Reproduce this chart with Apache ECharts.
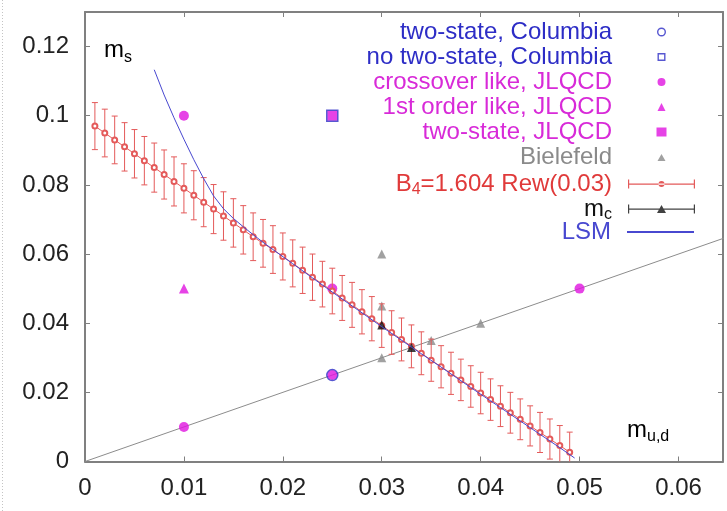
<!DOCTYPE html>
<html>
<head>
<meta charset="utf-8">
<script src="https://cdn.jsdelivr.net/npm/echarts@6/dist/echarts.min.js"></script>
<style>
  html, body { margin: 0; padding: 0; background: #fff; }
  #chart { width: 727px; height: 511px; }
</style>
</head>
<body>
<div id="chart"></div>
<script>
// ---- data: (m_ud, m_s) ----
const columbiaTwoState   = [[0.025, 0.025]];
const columbiaNoTwoState = [[0.025, 0.1]];
const jlqcdCrossover     = [[0.01, 0.1], [0.01, 0.01], [0.025, 0.05], [0.025, 0.025], [0.05, 0.05]];
const jlqcdFirstOrder    = [[0.01, 0.05]];
const jlqcdTwoState      = [[0.025, 0.1]];
const bielefeld          = [[0.03, 0.06], [0.03, 0.045], [0.03, 0.03], [0.035, 0.035], [0.04, 0.04]];
const criticalMass       = [[0.03, 0.0395], [0.033, 0.033]];
const symmetricLine      = [[0, 0], [0.07, 0.07]];

// B4 = 1.604 line from reweighting at 0.03
const rewMud = [0.001, 0.002, 0.003, 0.004, 0.005, 0.006, 0.007, 0.008, 0.009, 0.010,
                0.011, 0.012, 0.013, 0.014, 0.015, 0.016, 0.017, 0.018, 0.019, 0.020,
                0.021, 0.022, 0.023, 0.024, 0.025, 0.026, 0.027, 0.028, 0.029, 0.030,
                0.031, 0.032, 0.033, 0.034, 0.035, 0.036, 0.037, 0.038, 0.039, 0.040,
                0.041, 0.042, 0.043, 0.044, 0.045, 0.046, 0.047, 0.048, 0.049];
const rewMs  = [0.0970, 0.0950, 0.0930, 0.0910, 0.0890, 0.0870, 0.0850, 0.0830, 0.0810, 0.0790,
                0.0770, 0.0750, 0.0730, 0.0710, 0.0690, 0.0670, 0.0650, 0.0631, 0.0613, 0.0593,
                0.0573, 0.0553, 0.0533, 0.0513, 0.0493, 0.0473, 0.0453, 0.0433, 0.0413, 0.0393,
                0.0373, 0.0353, 0.0333, 0.0313, 0.0293, 0.0274, 0.0255, 0.0236, 0.0217, 0.0198,
                0.0179, 0.0160, 0.0141, 0.0122, 0.0103, 0.0084, 0.0065, 0.0046, 0.0027];
const rewErr = [0.0068, 0.0069, 0.0069, 0.0070, 0.0070, 0.0070, 0.0071, 0.0071, 0.0071, 0.0071,
                0.0071, 0.0071, 0.0071, 0.0070, 0.0070, 0.0070, 0.0069, 0.0069, 0.0069, 0.0068,
                0.0068, 0.0067, 0.0067, 0.0066, 0.0066, 0.0065, 0.0065, 0.0064, 0.0064, 0.0063,
                0.0063, 0.0062, 0.0062, 0.0062, 0.0061, 0.0061, 0.0061, 0.0060, 0.0060, 0.0060,
                0.0060, 0.0059, 0.0059, 0.0059, 0.0058, 0.0058, 0.0058, 0.0058, 0.0058];

// linear sigma model curve
const lsmMud = [0.007, 0.008, 0.009, 0.010, 0.011, 0.012, 0.013, 0.014, 0.015, 0.016,
                0.017, 0.018, 0.019, 0.021, 0.023, 0.025, 0.027, 0.030, 0.033, 0.036,
                0.039, 0.042, 0.045, 0.048, 0.0495];
const lsmMs  = [0.1133, 0.1060, 0.0994, 0.0932, 0.0873, 0.0818, 0.0768, 0.0731, 0.0703, 0.0679,
                0.0656, 0.0634, 0.0613, 0.0572, 0.0531, 0.0490, 0.0450, 0.0390, 0.0331, 0.0273,
                0.0214, 0.0156, 0.0098, 0.0040, 0.0010];

// axes
const xTickLabels = ['0', '0.01', '0.02', '0.03', '0.04', '0.05', '0.06'];
const yTickLabels = ['0', '0.02', '0.04', '0.06', '0.08', '0.1', '0.12'];
const xStep = 0.01, yStep = 0.02;

// ---- style ----
const FONT = '"Liberation Sans", Arial, Helvetica, sans-serif';
const BLUE = '#2d2dc6';
const MAGENTA = '#e014e0';
const MAGENTA_TEXT = '#d82ad8';
const GRAY = '#8a8a8a';
const RED = '#e03a3a';
const BAR = '#e45a5a';
const LSM_BLUE = '#4848d0';
const FRAME = '#808080';
const TICK_TEXT = '#222';

const NAME_B4 = 'B4=1.604 Rew(0.03)';
const NAME_MC = 'mc';

const rewBars = rewMud.map((x, i) => [x, rewMs[i] - rewErr[i], rewMs[i] + rewErr[i]]);
const rewLine = rewMud.map((x, i) => [x, rewMs[i]]);
const lsmLine = lsmMud.map((x, i) => [x, lsmMs[i]]);

function errorBars(params, api) {
  const x = api.value(0);
  const top = api.coord([x, api.value(2)]);
  const bot = api.coord([x, api.value(1)]);
  const cap = 3;
  const style = { stroke: BAR, lineWidth: 1 };
  return {
    type: 'group',
    children: [
      { type: 'line', shape: { x1: top[0], y1: top[1], x2: bot[0], y2: bot[1] }, style },
      { type: 'line', shape: { x1: top[0] - cap, y1: top[1], x2: top[0] + cap, y2: top[1] }, style },
      { type: 'line', shape: { x1: bot[0] - cap, y1: bot[1], x2: bot[0] + cap, y2: bot[1] }, style }
    ]
  };
}

const axisLineStyle = { onZero: false, lineStyle: { color: FRAME, width: 2 } };
const axisTickStyle = { inside: true, length: 5, lineStyle: { color: FRAME, width: 1 } };
const tickFont = { fontSize: 24, fontFamily: FONT, color: TICK_TEXT };

const subStyle = (color, size, shift) => ({ color, fontSize: size, fontFamily: FONT, lineHeight: 12, padding: [shift, 0, 0, 0] });
const mainStyle = (color, size) => ({ color, fontSize: size, fontFamily: FONT, lineHeight: 24 });

// legend icons, each laid out in a 67x9 box (two invisible corner specks fix the box)
const BOX = 'path://M0,0h0.01v0.01h-0.01z M66.99,8.99h0.01v0.01h-0.01z ';
const ICON_OPEN_CIRCLE = BOX + 'M29,4.5a4.5,4.5 0 1,0 9,0a4.5,4.5 0 1,0 -9,0z M30.4,4.5a3.1,3.1 0 1,1 6.2,0a3.1,3.1 0 1,1 -6.2,0z';
const ICON_CIRCLE      = BOX + 'M29.5,4.5a4,4 0 1,0 8,0a4,4 0 1,0 -8,0z';
const ICON_OPEN_SQUARE = BOX + 'M29.5,0.5h8v8h-8z M30.9,1.9v5.2h5.2v-5.2z';
const ICON_TRIANGLE    = BOX + 'M29.5,8.5L33.5,0.5L37.5,8.5z';
const ICON_SQUARE      = BOX + 'M28.5,0h10v9h-10z';
const ICON_TRIANGLE_SM = BOX + 'M29.5,8.5L33.5,1.5L37.5,8.5z';
const ICON_B4 = 'path://M0,0h1.2v9h-1.2z M65.8,0h1.2v9h-1.2z M0,4h67v1.2h-67z M30.5,4.6a3,3 0 1,0 6,0a3,3 0 1,0 -6,0z';
const ICON_MC = 'path://M0,0h1.2v9h-1.2z M65.8,0h1.2v9h-1.2z M0,4h67v1.2h-67z M29,8.6L33.5,0.4L38,8.6z';

const legendItems = [
  { name: 'two-state, Columbia', textStyle: { color: BLUE }, icon: ICON_OPEN_CIRCLE,
    itemStyle: { color: BLUE, borderWidth: 0 } },
  { name: 'no two-state, Columbia', textStyle: { color: BLUE }, icon: ICON_OPEN_SQUARE,
    itemStyle: { color: BLUE, borderWidth: 0 } },
  { name: 'crossover like, JLQCD', textStyle: { color: MAGENTA_TEXT }, icon: ICON_CIRCLE,
    itemStyle: { color: MAGENTA, borderWidth: 0 } },
  { name: '1st order like, JLQCD', textStyle: { color: MAGENTA_TEXT }, icon: ICON_TRIANGLE,
    itemStyle: { color: MAGENTA, borderWidth: 0 } },
  { name: 'two-state, JLQCD', textStyle: { color: MAGENTA_TEXT }, icon: ICON_SQUARE,
    itemStyle: { color: MAGENTA, borderWidth: 0 } },
  { name: 'Bielefeld', textStyle: { color: GRAY }, icon: ICON_TRIANGLE_SM,
    itemStyle: { color: GRAY, borderWidth: 0 } },
  { name: NAME_B4, icon: ICON_B4, itemStyle: { color: BAR, borderWidth: 0 } },
  { name: NAME_MC, icon: ICON_MC, itemStyle: { color: '#111', borderWidth: 0 } },
  { name: 'LSM', textStyle: { color: LSM_BLUE },
    itemStyle: { color: 'rgba(0,0,0,0)', borderColor: 'rgba(0,0,0,0)', borderWidth: 0 } }
];

// one key row per legend component, stacked 25px apart
const legends = legendItems.map((item, i) => ({
  orient: 'vertical', align: 'right', right: 32, top: 20 + 25 * i, padding: 0,
  itemGap: 0, itemWidth: 67, itemHeight: 9, selectedMode: false,
  textStyle: {
    fontFamily: FONT, fontSize: 24, lineHeight: 24, padding: [0, 11, 0, 0],
    rich: {
      r: mainStyle(RED, 24), rs: subStyle(RED, 16, 12),
      k: mainStyle('#111', 24), ks: subStyle('#111', 16, 12)
    }
  },
  formatter: name => {
    if (name === NAME_B4) return '{r|B}{rs|4}{r|=1.604 Rew(0.03)}';
    if (name === NAME_MC) return '{k|m}{ks|c}';
    return name;
  },
  data: [item]
}));

const chart = echarts.init(document.getElementById('chart'), null, { renderer: 'canvas' });

chart.setOption({
  animation: false,
  backgroundColor: '#fff',
  grid: { left: 85, right: 4, top: 12, bottom: 49.5, outerBoundsMode: 'none' },
  xAxis: [
    {
      type: 'value', min: 0, max: 0.0645, interval: xStep, position: 'bottom',
      axisLine: axisLineStyle, axisTick: axisTickStyle, splitLine: { show: false },
      axisLabel: Object.assign({ margin: 15, showMaxLabel: false,
        formatter: v => xTickLabels[Math.round(v / xStep)] || '' }, tickFont)
    },
    {
      type: 'value', min: 0, max: 0.0645, interval: xStep, position: 'top',
      axisLine: axisLineStyle, axisTick: axisTickStyle, splitLine: { show: false },
      axisLabel: { show: false }
    }
  ],
  yAxis: [
    {
      type: 'value', min: 0, max: 0.13, interval: yStep, position: 'left',
      axisLine: axisLineStyle, axisTick: axisTickStyle, splitLine: { show: false },
      axisLabel: Object.assign({ margin: 16, showMaxLabel: false,
        formatter: v => yTickLabels[Math.round(v / yStep)] || '' }, tickFont)
    },
    {
      type: 'value', min: 0, max: 0.13, interval: yStep, position: 'right',
      axisLine: axisLineStyle, axisTick: axisTickStyle, splitLine: { show: false },
      axisLabel: { show: false }
    }
  ],
  legend: legends,
  graphic: [
    {
      type: 'text', x: 104, y: 50, silent: true,
      style: {
        text: '{a|m}{b|s}', verticalAlign: 'middle', align: 'left',
        rich: { a: mainStyle('#111', 24), b: subStyle('#111', 16, 16) }
      }
    },
    {
      type: 'text', x: 627, y: 430, silent: true,
      style: {
        text: '{a|m}{b|u,d}', verticalAlign: 'middle', align: 'left',
        rich: { a: mainStyle('#111', 24), b: subStyle('#111', 16, 14) }
      }
    },
    {
      type: 'line', silent: true,
      shape: { x1: 2.5, y1: 0, x2: 2.5, y2: 511 },
      style: { stroke: '#c4c4c4', lineWidth: 1, lineDash: [1, 2] }
    }
  ],
  series: [
    {
      type: 'line', name: 'm_s = m_ud', data: symmetricLine, symbol: 'none', silent: true,
      lineStyle: { color: '#8c8c8c', width: 1 }, z: 1
    },
    {
      type: 'scatter', name: 'two-state, Columbia', data: columbiaTwoState,
      symbol: 'circle', symbolSize: 11,
      itemStyle: { color: 'rgba(0,0,0,0)', borderColor: BLUE, borderWidth: 1.5 }, z: 4
    },
    {
      type: 'scatter', name: 'no two-state, Columbia', data: columbiaNoTwoState,
      symbol: 'rect', symbolSize: 11,
      itemStyle: { color: 'rgba(0,0,0,0)', borderColor: BLUE, borderWidth: 1.5 }, z: 4
    },
    {
      type: 'scatter', name: 'crossover like, JLQCD', data: jlqcdCrossover,
      symbol: 'circle', symbolSize: 10, itemStyle: { color: MAGENTA }, z: 3
    },
    {
      type: 'scatter', name: '1st order like, JLQCD', data: jlqcdFirstOrder,
      symbol: 'triangle', symbolSize: 10, itemStyle: { color: MAGENTA }, z: 3
    },
    {
      type: 'scatter', name: 'two-state, JLQCD', data: jlqcdTwoState,
      symbol: 'rect', symbolSize: 10, itemStyle: { color: MAGENTA }, z: 3
    },
    {
      type: 'scatter', name: 'Bielefeld', data: bielefeld,
      symbol: 'triangle', symbolSize: 9, itemStyle: { color: GRAY }, z: 2
    },
    {
      type: 'custom', name: NAME_B4, data: rewBars, renderItem: errorBars, clip: true,
      encode: { x: 0, y: [1, 2] }, itemStyle: { color: BAR }, silent: true, z: 5
    },
    {
      type: 'line', name: NAME_B4, data: rewLine, symbol: 'emptyCircle', symbolSize: 5,
      lineStyle: { color: BAR, width: 1 }, itemStyle: { color: BAR }, silent: true, z: 5
    },
    {
      type: 'scatter', name: NAME_MC, data: criticalMass,
      symbol: 'triangle', symbolSize: 9, itemStyle: { color: '#111' }, z: 6
    },
    {
      type: 'line', name: 'LSM', data: lsmLine, symbol: 'none', silent: true,
      lineStyle: { color: LSM_BLUE, width: 1 }, z: 7
    }
  ]
});
</script>
</body>
</html>
